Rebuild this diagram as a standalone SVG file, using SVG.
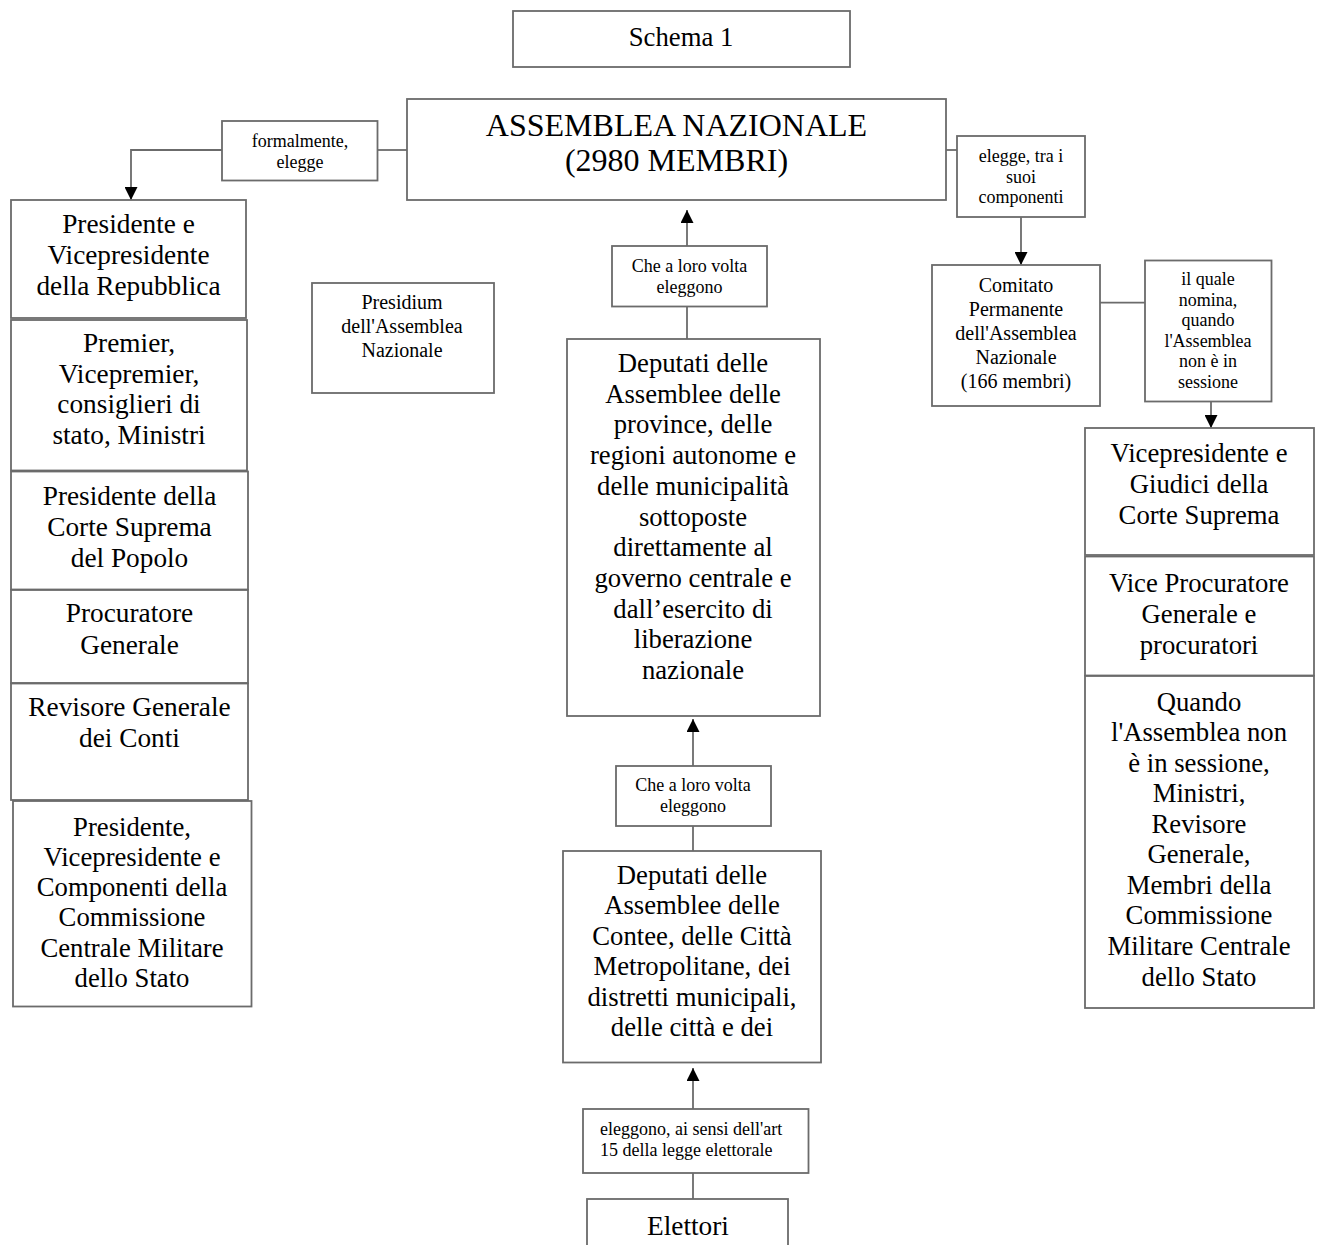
<svg xmlns="http://www.w3.org/2000/svg" width="1320" height="1245" viewBox="0 0 1320 1245">
<defs>
<style>
.box{fill:#fff;stroke:#6b6b6b;stroke-width:1.8}
.ln{fill:none;stroke:#6b6b6b;stroke-width:1.8}
text{font-family:"Liberation Serif","Times New Roman",serif;fill:#000;text-anchor:middle}
.t27{font-size:27.3px}
.t26{font-size:26.7px}
.t31{font-size:32px}
.t20{font-size:20px}
.t18{font-size:18px}
</style>
<marker id="arr" viewBox="0 0 13 13" markerWidth="13" markerHeight="13" refX="13" refY="6.5" orient="auto" markerUnits="userSpaceOnUse">
<path d="M0,0 L13,6.5 L0,13 Z" fill="#000"/>
</marker>
</defs>
<rect width="1320" height="1245" fill="#fff"/>

<g id="connectors">
<line class="ln" x1="407" y1="150" x2="377" y2="150"/>
<path class="ln" d="M222,150 H131 V200" marker-end="url(#arr)"/>
<line class="ln" x1="946" y1="150" x2="957" y2="150"/>
<path class="ln" d="M1021,217 V265" marker-end="url(#arr)"/>
<line class="ln" x1="1100" y1="302.7" x2="1145" y2="302.7"/>
<path class="ln" d="M1211,402 V428" marker-end="url(#arr)"/>
<path class="ln" d="M687,246 V210" marker-end="url(#arr)"/>
<line class="ln" x1="687" y1="339" x2="687" y2="306"/>
<path class="ln" d="M693,766 V719" marker-end="url(#arr)"/>
<line class="ln" x1="693" y1="851" x2="693" y2="826"/>
<path class="ln" d="M693,1109 V1068" marker-end="url(#arr)"/>
<line class="ln" x1="693" y1="1199" x2="693" y2="1173"/>
</g>

<g id="schema">
<rect class="box" x="513" y="11" width="337" height="56"/>
<text class="t26" x="681" y="46">Schema 1</text>
</g>

<g id="assemblea">
<rect class="box" x="407" y="99" width="539" height="101"/>
<text class="t31" x="676.5" y="136">ASSEMBLEA NAZIONALE</text>
<text class="t31" x="676.5" y="171">(2980 MEMBRI)</text>
</g>

<g id="formalmente">
<rect class="box" x="222" y="121" width="155.5" height="59.5"/>
<text class="t18" x="300" y="146.7">formalmente,</text>
<text class="t18" x="300" y="167.7">elegge</text>
</g>

<g id="presidente-repubblica">
<rect class="box" x="11" y="200" width="235" height="118"/>
<text class="t27" x="128.5" y="233">Presidente e</text>
<text class="t27" x="128.5" y="264">Vicepresidente</text>
<text class="t27" x="128.5" y="295">della Repubblica</text>
</g>

<g id="premier">
<rect class="box" x="11" y="320" width="236" height="150.5"/>
<text class="t27" x="129" y="352">Premier,</text>
<text class="t27" x="129" y="382.7">Vicepremier,</text>
<text class="t27" x="129" y="413.4">consiglieri di</text>
<text class="t27" x="129" y="444">stato, Ministri</text>
</g>

<g id="corte-suprema">
<rect class="box" x="11" y="471.5" width="237" height="118"/>
<text class="t27" x="129.5" y="505">Presidente della</text>
<text class="t27" x="129.5" y="536">Corte Suprema</text>
<text class="t27" x="129.5" y="567">del Popolo</text>
</g>

<g id="procuratore">
<rect class="box" x="11" y="590" width="237" height="93"/>
<text class="t27" x="129.5" y="622">Procuratore</text>
<text class="t27" x="129.5" y="654">Generale</text>
</g>

<g id="revisore">
<rect class="box" x="11" y="683.5" width="237" height="116.5"/>
<text class="t27" x="129.5" y="716">Revisore Generale</text>
<text class="t27" x="129.5" y="747">dei Conti</text>
</g>

<g id="commissione-militare">
<rect class="box" x="13" y="801" width="238.5" height="205.5"/>
<text class="t26" x="132" y="835.5">Presidente,</text>
<text class="t26" x="132" y="865.8">Vicepresidente e</text>
<text class="t26" x="132" y="896.1">Componenti della</text>
<text class="t26" x="132" y="926.4">Commissione</text>
<text class="t26" x="132" y="956.7">Centrale Militare</text>
<text class="t26" x="132" y="987">dello Stato</text>
</g>

<g id="presidium">
<rect class="box" x="312" y="283" width="182" height="110"/>
<text class="t20" x="402" y="308.6">Presidium</text>
<text class="t20" x="402" y="332.6">dell'Assemblea</text>
<text class="t20" x="402" y="356.6">Nazionale</text>
</g>

<g id="che1">
<rect class="box" x="612" y="246" width="155" height="60.5"/>
<text class="t18" x="689.5" y="271.5">Che a loro volta</text>
<text class="t18" x="689.5" y="293">eleggono</text>
</g>

<g id="deputati-province">
<rect class="box" x="567" y="339" width="253" height="377"/>
<text class="t26" x="693" y="372">Deputati delle</text>
<text class="t26" x="693" y="402.7">Assemblee delle</text>
<text class="t26" x="693" y="433.4">province, delle</text>
<text class="t26" x="693" y="464.1">regioni autonome e</text>
<text class="t26" x="693" y="494.8">delle municipalità</text>
<text class="t26" x="693" y="525.5">sottoposte</text>
<text class="t26" x="693" y="556.2">direttamente al</text>
<text class="t26" x="693" y="586.9">governo centrale e</text>
<text class="t26" x="693" y="617.6">dall’esercito di</text>
<text class="t26" x="693" y="648.3">liberazione</text>
<text class="t26" x="693" y="679">nazionale</text>
</g>

<g id="che2">
<rect class="box" x="616" y="766" width="155" height="60"/>
<text class="t18" x="693" y="791">Che a loro volta</text>
<text class="t18" x="693" y="812">eleggono</text>
</g>

<g id="deputati-contee">
<rect class="box" x="563" y="851" width="258" height="211.5"/>
<text class="t26" x="692" y="883.5">Deputati delle</text>
<text class="t26" x="692" y="914">Assemblee delle</text>
<text class="t26" x="692" y="944.5">Contee, delle Città</text>
<text class="t26" x="692" y="975">Metropolitane, dei</text>
<text class="t26" x="692" y="1005.5">distretti municipali,</text>
<text class="t26" x="692" y="1036">delle città e dei</text>
</g>

<g id="eleggono">
<rect class="box" x="583" y="1109" width="225.5" height="64"/>
<text class="t18" x="600" y="1135" style="text-anchor:start">eleggono, ai sensi dell'art</text>
<text class="t18" x="600" y="1156" style="text-anchor:start">15 della legge elettorale</text>
</g>

<g id="elettori">
<rect class="box" x="587" y="1199" width="201" height="70"/>
<text class="t27" x="688" y="1235">Elettori</text>
</g>

<g id="elegge-tra">
<rect class="box" x="957" y="136" width="128" height="81"/>
<text class="t18" x="1021" y="162">elegge, tra i</text>
<text class="t18" x="1021" y="182.7">suoi</text>
<text class="t18" x="1021" y="203.3">componenti</text>
</g>

<g id="comitato">
<rect class="box" x="932" y="265" width="168" height="141"/>
<text class="t20" x="1016" y="292.3">Comitato</text>
<text class="t20" x="1016" y="316.3">Permanente</text>
<text class="t20" x="1016" y="340.3">dell'Assemblea</text>
<text class="t20" x="1016" y="364.3">Nazionale</text>
<text class="t20" x="1016" y="388.3">(166 membri)</text>
</g>

<g id="il-quale">
<rect class="box" x="1145" y="260.5" width="126.5" height="141"/>
<text class="t18" x="1208" y="285">il quale</text>
<text class="t18" x="1208" y="305.5">nomina,</text>
<text class="t18" x="1208" y="326">quando</text>
<text class="t18" x="1208" y="346.5">l'Assemblea</text>
<text class="t18" x="1208" y="367">non è in</text>
<text class="t18" x="1208" y="387.5">sessione</text>
</g>

<g id="giudici">
<rect class="box" x="1085" y="428" width="229" height="127"/>
<text class="t26" x="1199" y="461.5">Vicepresidente e</text>
<text class="t26" x="1199" y="492.5">Giudici della</text>
<text class="t26" x="1199" y="523.5">Corte Suprema</text>
</g>

<g id="vice-procuratore">
<rect class="box" x="1085" y="556.5" width="229" height="119"/>
<text class="t26" x="1199" y="591.5">Vice Procuratore</text>
<text class="t26" x="1199" y="622.5">Generale e</text>
<text class="t26" x="1199" y="653.5">procuratori</text>
</g>

<g id="quando">
<rect class="box" x="1085" y="676" width="229" height="332"/>
<text class="t26" x="1199" y="710.5">Quando</text>
<text class="t26" x="1199" y="741">l'Assemblea non</text>
<text class="t26" x="1199" y="771.6">è in sessione,</text>
<text class="t26" x="1199" y="802.2">Ministri,</text>
<text class="t26" x="1199" y="832.7">Revisore</text>
<text class="t26" x="1199" y="863.3">Generale,</text>
<text class="t26" x="1199" y="893.9">Membri della</text>
<text class="t26" x="1199" y="924.4">Commissione</text>
<text class="t26" x="1199" y="955">Militare Centrale</text>
<text class="t26" x="1199" y="985.6">dello Stato</text>
</g>
</svg>
